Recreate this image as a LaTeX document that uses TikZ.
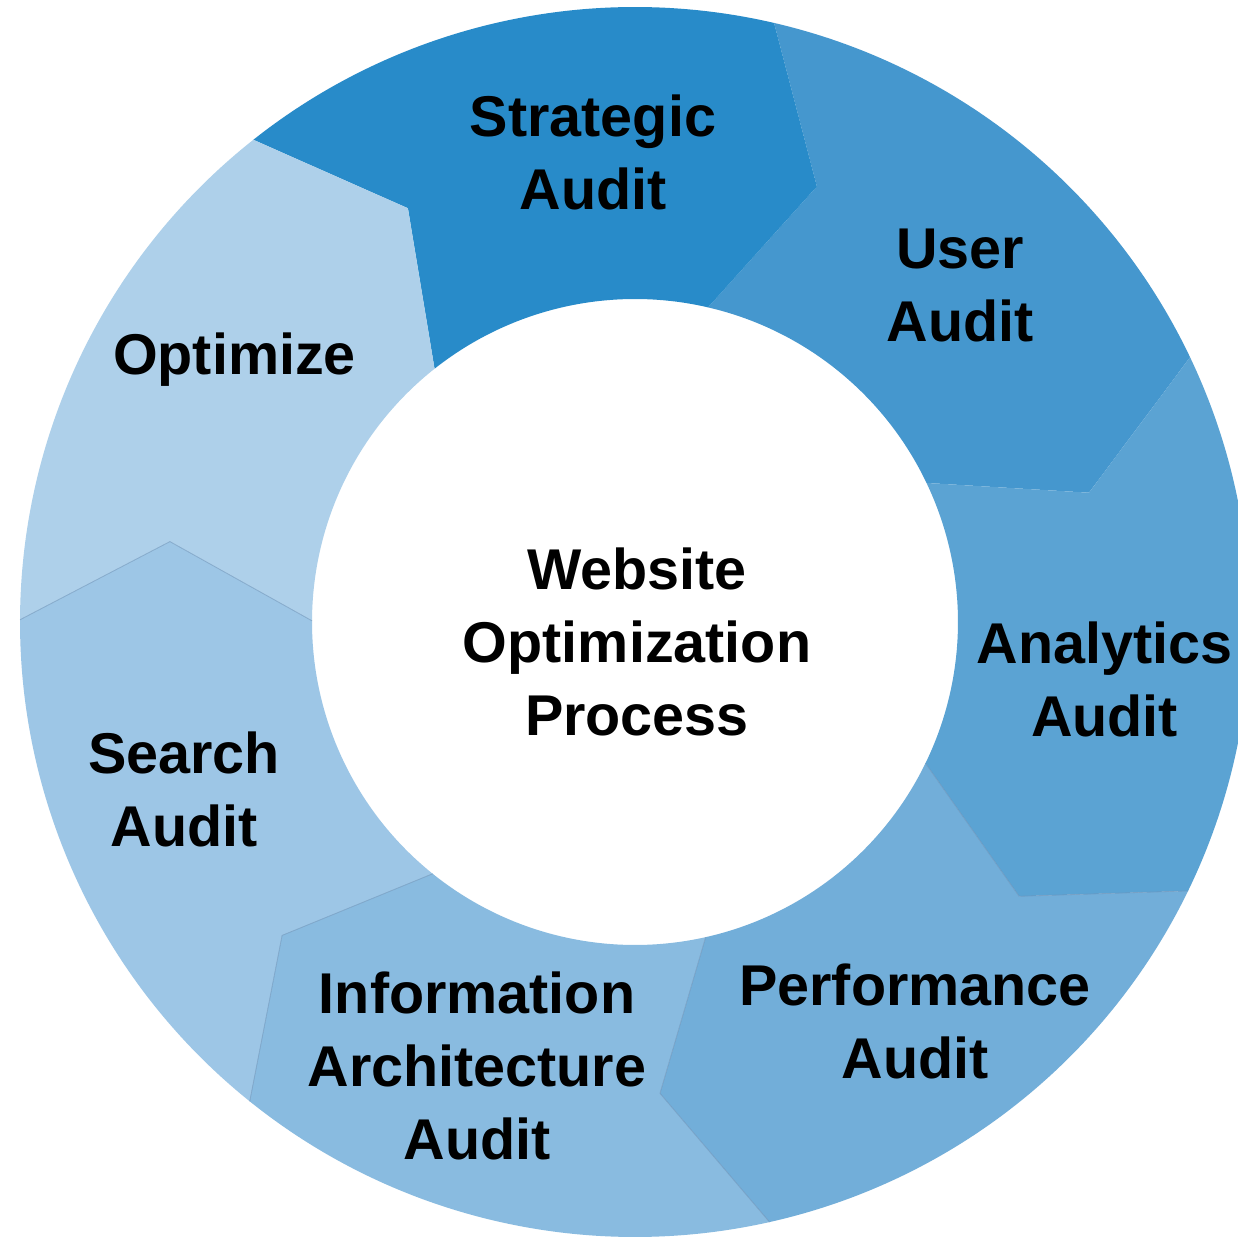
\documentclass[tikz,border=0pt]{standalone}
\usepackage{fontspec}
\setmainfont{Liberation Sans}
\definecolor{cStrat}{HTML}{288BC9}
\definecolor{cUser}{HTML}{4597CE}
\definecolor{cAnal}{HTML}{5BA3D3}
\definecolor{cPerf}{HTML}{72AED9}
\definecolor{cInfo}{HTML}{89BBE0}
\definecolor{cSearch}{HTML}{9DC6E6}
\definecolor{cOpt}{HTML}{AED0EA}
\definecolor{cSeam}{HTML}{6E93B8}
\begin{document}
\begin{tikzpicture}[x=1pt,y=1pt,
  lbl/.style={font=\bfseries\fontsize{57.5}{73}\selectfont, align=center, inner sep=0pt, text=black},
  seam/.style={draw=cSeam, line width=0.8pt, opacity=0.6}]
\useasboundingbox[fill=white] (-635,-616) rectangle (603,622);
\def\Ro{615}\def\Ri{323}\def\Tr{472}\def\Off{9.6}
\foreach \a/\c in {25.5/cUser, 76.93/cStrat, 128.36/cOpt, 179.79/cSearch, 231.21/cInfo, 282.64/cPerf, 334.07/cAnal}{
  \pgfmathsetmacro\b{\a+51.4286}
  \fill[\c] (\a:\Ro pt) arc[start angle=\a, end angle=\b, radius=\Ro pt]
     -- (\b-\Off:\Tr pt) -- (\b:\Ri pt)
     arc[start angle=\b, end angle=\a, radius=\Ri pt]
     -- (\a-\Off:\Tr pt) -- cycle;
}
\foreach \a in {179.79, 231.21, 282.64, 334.07}{
  \draw[seam] (\a:\Ro pt) -- (\a-\Off:\Tr pt) -- (\a:\Ri pt);
}
\node[lbl] (strat) at (-42,469.5) {Strategic\\Audit};
\node[lbl] (user) at (325,336.5) {User\\Audit};
\node[lbl] (opt) at (-400.5,262.5) {Optimize};
\node[lbl] (anal) at (469.5,-57.5) {Analytics\\Audit};
\node[lbl] (perf) at (280,-399) {Performance\\Audit};
\node[lbl] (info) at (-158,-444) {Information\\Architecture\\Audit};
\node[lbl] (search) at (-451,-167) {Search\\Audit};
\node[lbl] (center) at (2,-19.5) {Website\\Optimization\\Process};
\end{tikzpicture}
\end{document}
